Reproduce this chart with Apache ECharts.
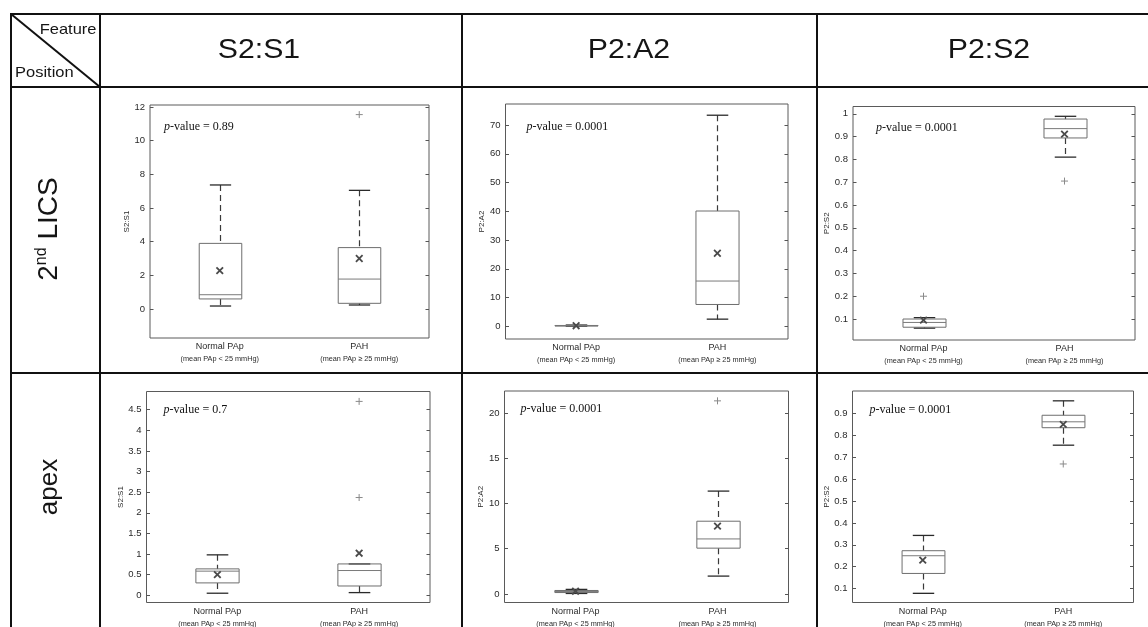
<!DOCTYPE html>
<html>
<head>
<meta charset="utf-8">
<script src="https://cdn.jsdelivr.net/npm/echarts@6/dist/echarts.min.js"></script>
<style>
html, body { margin: 0; padding: 0; background: #fff; }
#chart { width: 1148px; height: 627px; }
</style>
</head>
<body>
<div id="chart"></div>
<script>
// Groups compared in every panel
const groups = ['Normal PAp', 'PAH'];
const groupNotes = ['(mean PAp < 25 mmHg)', '(mean PAp \u2265 25 mmHg)'];

// Table headings
const features = ['S2:S1', 'P2:A2', 'P2:S2'];
const positionLabels = ['2nd LICS', 'apex'];

// Box statistics per group: [lower whisker, Q1, median, Q3, upper whisker]
// 2nd LICS
const licsS2S1Box = [[0.18, 0.6, 0.85, 3.9, 7.37], [0.24, 0.34, 1.78, 3.65, 7.05]];
const licsS2S1Mean = [2.28, 3.0];
const licsS2S1Outliers = [[1, 11.55]];

const licsP2A2Box = [[0.05, 0.12, 0.2, 0.3, 0.45], [2.5, 7.6, 15.75, 40.1, 73.4]];
const licsP2A2Mean = [0.22, 25.4];
const licsP2A2Outliers = [];

const licsP2S2Box = [[0.06, 0.064, 0.085, 0.1, 0.106], [0.81, 0.894, 0.935, 0.977, 0.989]];
const licsP2S2Mean = [0.095, 0.911];
const licsP2S2Outliers = [[0, 0.2], [1, 0.705]];

// apex
const apexS2S1Box = [[0.05, 0.3, 0.585, 0.64, 0.98], [0.065, 0.225, 0.6, 0.76, 0.76]];
const apexS2S1Mean = [0.5, 1.02];
const apexS2S1Outliers = [[1, 4.7], [1, 2.37]];

const apexP2A2Box = [[0.05, 0.15, 0.27, 0.38, 0.5], [1.97, 5.06, 6.08, 8.04, 11.37]];
const apexP2A2Mean = [0.3, 7.5];
const apexP2A2Outliers = [[1, 21.35]];

const apexP2S2Box = [[0.078, 0.169, 0.25, 0.273, 0.343], [0.756, 0.836, 0.863, 0.893, 0.959]];
const apexP2S2Mean = [0.23, 0.851];
const apexP2S2Outliers = [[1, 0.67]];

// p-values printed in each panel
const pValues = ['0.89', '0.0001', '0.0001', '0.7', '0.0001', '0.0001'];

// Y tick labels
const ticksLicsS2S1 = [0, 2, 4, 6, 8, 10, 12];
const ticksLicsP2A2 = [0, 10, 20, 30, 40, 50, 60, 70];
const ticksLicsP2S2 = [0.1, 0.2, 0.3, 0.4, 0.5, 0.6, 0.7, 0.8, 0.9, 1];
const ticksApexS2S1 = [0, 0.5, 1, 1.5, 2, 2.5, 3, 3.5, 4, 4.5];
const ticksApexP2A2 = [0, 5, 10, 15, 20];
const ticksApexP2S2 = [0.1, 0.2, 0.3, 0.4, 0.5, 0.6, 0.7, 0.8, 0.9];

// Panel layout: plot rectangle, value range, label placement
const panels = [
  { rect: [150, 105, 279, 233], range: [-1.72, 12.12], ticks: ticksLicsS2S1, name: 'S2:S1', nameGap: 19,
    box: licsS2S1Box, mean: licsS2S1Mean, out: licsS2S1Outliers, p: pValues[0], pOff: [14, 22] },
  { rect: [505.5, 104, 282.5, 235], range: [-4.4, 77.3], ticks: ticksLicsP2A2, name: 'P2:A2', nameGap: 19,
    box: licsP2A2Box, mean: licsP2A2Mean, out: licsP2A2Outliers, p: pValues[1], pOff: [21, 22.5] },
  { rect: [853, 106.5, 282, 233.5], range: [0.008, 1.032], ticks: ticksLicsP2S2, name: 'P2:S2', nameGap: 22,
    box: licsP2S2Box, mean: licsP2S2Mean, out: licsP2S2Outliers, p: pValues[2], pOff: [23, 21] },
  { rect: [146.5, 391.5, 283.5, 213.5], range: [-0.175, 4.94], ticks: ticksApexS2S1, name: 'S2:S1', nameGap: 22,
    box: apexS2S1Box, mean: apexS2S1Mean, out: apexS2S1Outliers, p: pValues[3], pOff: [17, 18] },
  { rect: [504.5, 391, 284, 214], range: [-0.95, 22.44], ticks: ticksApexP2A2, name: 'P2:A2', nameGap: 16,
    box: apexP2A2Box, mean: apexP2A2Mean, out: apexP2A2Outliers, p: pValues[4], pOff: [16, 17.5] },
  { rect: [852.5, 391, 281, 215], range: [0.036, 1.004], ticks: ticksApexP2S2, name: 'P2:S2', nameGap: 22,
    box: apexP2S2Box, mean: apexP2S2Mean, out: apexP2S2Outliers, p: pValues[5], pOff: [17, 18.5] }
];

const SANS = '"Liberation Sans", Arial, Helvetica, sans-serif';
const SERIF = '"Liberation Serif", "Times New Roman", serif';

function fmtTick(v) {
  return String(Math.round(v * 1000) / 1000);
}

// Box with dashed whiskers and solid caps
function renderBox(params, api) {
  const i = api.value(0);
  const lo = api.coord([i, api.value(1)]);
  const q1 = api.coord([i, api.value(2)]);
  const md = api.coord([i, api.value(3)]);
  const q3 = api.coord([i, api.value(4)]);
  const hi = api.coord([i, api.value(5)]);
  const band = api.size([1, 0])[0];
  const bw = band * 0.305;
  const cw = bw * 0.5;
  const cx = Math.round(lo[0]) + 0.5;
  const dash = { stroke: '#3a3a3a', lineWidth: 1.2, lineDash: [6, 4] };
  const cap = { stroke: '#2a2a2a', lineWidth: 1.3 };
  const thin = { stroke: '#7a7a7a', lineWidth: 1 };
  const children = [];
  if (hi[1] < q3[1] - 0.5) {
    children.push({ type: 'line', shape: { x1: cx, y1: hi[1], x2: cx, y2: q3[1] }, style: dash });
  }
  if (lo[1] > q1[1] + 0.5) {
    children.push({ type: 'line', shape: { x1: cx, y1: q1[1], x2: cx, y2: lo[1] }, style: dash });
  }
  children.push({ type: 'line', shape: { x1: cx - cw / 2, y1: hi[1], x2: cx + cw / 2, y2: hi[1] }, style: cap });
  children.push({ type: 'line', shape: { x1: cx - cw / 2, y1: lo[1], x2: cx + cw / 2, y2: lo[1] }, style: cap });
  children.push({ type: 'rect', shape: { x: cx - bw / 2, y: q3[1], width: bw, height: Math.max(q1[1] - q3[1], 0.5) },
    style: { fill: 'none', stroke: '#6e6e6e', lineWidth: 1 } });
  children.push({ type: 'line', shape: { x1: cx - bw / 2, y1: md[1], x2: cx + bw / 2, y2: md[1] }, style: thin });
  return { type: 'group', children };
}

// Mean marker: x
function renderMean(params, api) {
  const p = api.coord([api.value(0), api.value(1)]);
  const r = 3.3;
  const st = { stroke: '#4a4a4a', lineWidth: 1.8 };
  return { type: 'group', children: [
    { type: 'line', shape: { x1: p[0] - r, y1: p[1] - r, x2: p[0] + r, y2: p[1] + r }, style: st },
    { type: 'line', shape: { x1: p[0] - r, y1: p[1] + r, x2: p[0] + r, y2: p[1] - r }, style: st }
  ] };
}

// Outlier marker: +
function renderOutlier(params, api) {
  const p = api.coord([api.value(0), api.value(1)]);
  const r = 3.5;
  const st = { stroke: '#8a8a8a', lineWidth: 1 };
  return { type: 'group', children: [
    { type: 'line', shape: { x1: p[0] - r, y1: p[1], x2: p[0] + r, y2: p[1] }, style: st },
    { type: 'line', shape: { x1: p[0], y1: p[1] - r, x2: p[0], y2: p[1] + r }, style: st }
  ] };
}

const grids = [], xAxes = [], yAxes = [], series = [], graphics = [];

panels.forEach((pn, k) => {
  const [l, t, w, h] = pn.rect;
  grids.push({ left: l, top: t, width: w, height: h, show: true, borderColor: '#5a5a5a', borderWidth: 1, backgroundColor: '#fff' });
  xAxes.push({
    type: 'category', gridIndex: k, data: groups, boundaryGap: true,
    axisLine: { show: false }, axisTick: { show: false }, splitLine: { show: false },
    axisLabel: {
      margin: 3, interval: 0,
      formatter: (v, i) => '{a|' + v + '}\n{b|' + groupNotes[i] + '}',
      rich: {
        a: { fontFamily: SANS, fontSize: 9, color: '#2a2a2a', lineHeight: 12 },
        b: { fontFamily: SANS, fontSize: 7.3, color: '#2a2a2a', lineHeight: 12 }
      }
    }
  });
  const tickVals = pn.ticks;
  yAxes.push({
    type: 'value', gridIndex: k, min: pn.range[0], max: pn.range[1], position: 'left',
    name: pn.name, nameLocation: 'middle', nameGap: pn.nameGap, nameRotate: 90,
    nameTextStyle: { fontFamily: SANS, fontSize: 8, color: '#2a2a2a' },
    axisLine: { show: false }, splitLine: { show: false },
    axisTick: { show: true, inside: true, length: 3.5, lineStyle: { color: '#555' }, customValues: tickVals },
    axisLabel: { fontFamily: SANS, fontSize: 9.5, color: '#2a2a2a', margin: 5, customValues: tickVals, formatter: fmtTick }
  });
  yAxes.push({
    type: 'value', gridIndex: k, min: pn.range[0], max: pn.range[1], position: 'right',
    axisLine: { show: false }, splitLine: { show: false },
    axisTick: { show: true, inside: true, length: 3.5, lineStyle: { color: '#555' }, customValues: tickVals },
    axisLabel: { show: false }
  });
  series.push({
    type: 'custom', xAxisIndex: k, yAxisIndex: 2 * k, renderItem: renderBox,
    encode: { x: 0, y: [1, 2, 3, 4, 5] },
    data: pn.box.map((b, i) => [i].concat(b)), silent: true
  });
  series.push({
    type: 'custom', xAxisIndex: k, yAxisIndex: 2 * k, renderItem: renderMean,
    encode: { x: 0, y: 1 }, data: pn.mean.map((m, i) => [i, m]), silent: true, z: 3
  });
  series.push({
    type: 'custom', xAxisIndex: k, yAxisIndex: 2 * k, renderItem: renderOutlier,
    encode: { x: 0, y: 1 }, data: pn.out, silent: true, z: 3
  });
  graphics.push({
    type: 'text', x: l + pn.pOff[0], y: t + pn.pOff[1], z: 10,
    style: {
      text: '{i|p}{n|-value = ' + pn.p + '}',
      verticalAlign: 'middle', align: 'left',
      rich: {
        i: { fontFamily: SERIF, fontStyle: 'italic', fontSize: 12, fill: '#111' },
        n: { fontFamily: SERIF, fontSize: 12, fill: '#111' }
      }
    }
  });
});

// Table frame
const tableLine = { stroke: '#111', lineWidth: 2 };
const segs = [
  [11, 14, 1148, 14], [11, 87, 1148, 87], [11, 373, 1148, 373],
  [11, 13, 11, 627], [100, 13, 100, 627], [462, 13, 462, 627], [817, 13, 817, 627],
  [11, 14, 100, 87]
];
segs.forEach(s => graphics.push({ type: 'line', shape: { x1: s[0], y1: s[1], x2: s[2], y2: s[3] }, style: tableLine, z: 20 }));

// Column headings
const headX = [259, 629, 989];
features.forEach((f, i) => graphics.push({
  type: 'text', x: headX[i], y: 50.5, scaleX: 1.12, z: 20,
  style: { text: f, fontFamily: SANS, fontSize: 27, fill: '#151515', align: 'center', verticalAlign: 'middle' }
}));
graphics.push({ type: 'text', x: 96.5, y: 30, scaleX: 1.1, z: 20,
  style: { text: 'Feature', fontFamily: SANS, fontSize: 15, fill: '#151515', align: 'right', verticalAlign: 'middle' } });
graphics.push({ type: 'text', x: 15, y: 72.5, scaleX: 1.1, z: 20,
  style: { text: 'Position', fontFamily: SANS, fontSize: 15, fill: '#151515', align: 'left', verticalAlign: 'middle' } });

// Row headings, read bottom to top
graphics.push({ type: 'text', x: 49, y: 229, rotation: Math.PI / 2, z: 20,
  style: {
    text: '{a|2}{s|nd}{a| LICS}', align: 'center', verticalAlign: 'middle',
    rich: {
      a: { fontFamily: SANS, fontSize: 28, fill: '#151515', lineHeight: 30 },
      s: { fontFamily: SANS, fontSize: 16, fill: '#151515', verticalAlign: 'top', lineHeight: 30 }
    }
  } });
graphics.push({ type: 'text', x: 50, y: 487, rotation: Math.PI / 2, z: 20,
  style: { text: positionLabels[1], fontFamily: SANS, fontSize: 26, fill: '#151515', align: 'center', verticalAlign: 'middle' } });

const chart = echarts.init(document.getElementById('chart'), null, { renderer: 'canvas' });
chart.setOption({
  animation: false,
  backgroundColor: '#fff',
  grid: grids,
  xAxis: xAxes,
  yAxis: yAxes,
  series: series,
  graphic: graphics
});
</script>
</body>
</html>
